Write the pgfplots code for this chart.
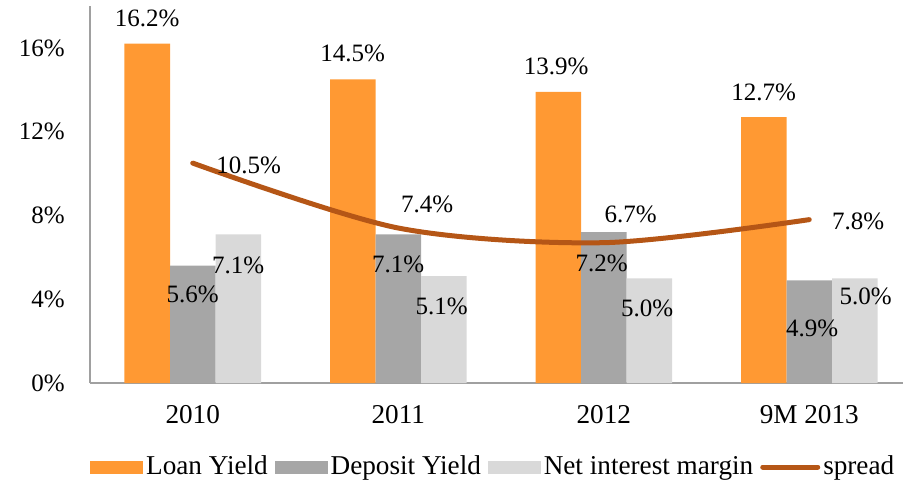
\documentclass[border=0pt]{standalone}
\usepackage{fontspec}
\setmainfont{Liberation Serif}
\usepackage{pgfplots}
\usepackage{pgfplotstable}
\pgfplotsset{compat=1.18}
\definecolor{loanc}{RGB}{255,153,51}
\definecolor{depc}{RGB}{166,166,166}
\definecolor{nimc}{RGB}{217,217,217}
\definecolor{spreadc}{RGB}{181,86,22}
\definecolor{axisc}{RGB}{160,160,160}

% dx, dy: label offsets in pt (baseline, centred)
\pgfplotstableread{
x y dx dy
0 16.2 0 8.5
1 14.5 0 9
2 13.9 -1 8.5
3 12.7 0 8.5
}\loantab
\pgfplotstableread{
x y dx dy
0 5.6 0 -18.5
1 7.1 0 -19
2 7.2 -1 -19.5
3 4.9 1.5 -28
}\deptab
\pgfplotstableread{
x y dx dy
0 7.1 0 -19.5
1 5.1 -1 -19
2 5.0 -1 -19
3 5.0 5.5 -13
}\nimtab
\pgfplotstableread{
x y dx dy
0 10.5 28 -5
1 7.4 14.5 8
2 6.7 13.5 10
3 7.8 24.5 -5
}\spreadtab

% 1 x unit = 102.75pt, 1 y unit = 188.5/18 pt
\pgfplotsset{
  lblplot/.style={
    draw=none, mark=none, forget plot,
    point meta=\thisrow{y},
    nodes near coords={\pgfmathprintnumber[fixed,fixed zerofill,precision=1,assume math mode=true]{\pgfplotspointmeta}\%},
    every node near coord/.append style={anchor=base, inner sep=0pt, font=\fontsize{12.5}{14}\selectfont, text=black},
  },
}

\begin{document}
\begin{tikzpicture}
\begin{axis}[
  scale only axis, width=411pt, height=188.5pt,
  xmin=-0.5, xmax=3.5, ymin=0, ymax=18,
  axis x line*=bottom, axis y line*=left,
  axis line style={draw=axisc, line width=0.75pt},
  x axis line style={-}, y axis line style={-},
  major tick length=0pt,
  xtick={0,1,2,3}, xticklabels={2010,2011,2012,9M 2013},
  ytick={0,4,8,12,16}, yticklabels={0\%,4\%,8\%,12\%,16\%},
  yticklabel style={anchor=east, inner sep=0pt, xshift=-12.5pt, font=\fontsize{12.5}{14}\selectfont},
  xticklabel style={anchor=base, inner sep=0pt, yshift=-20pt, font=\fontsize{13.6}{16}\selectfont},
  clip=false,
  legend columns=4,
  legend style={at={(axis description cs:0,-0.2228)}, anchor=west, draw=none, fill=none, inner sep=0pt,
    font=\fontsize{13.6}{16}\selectfont, nodes={inner sep=1.5pt},
    /tikz/every even column/.append style={column sep=2pt}},
  legend cell align=left,
]
\addplot[ybar, bar width=22.75pt, bar shift=-22.75pt, fill=loanc, draw=none, forget plot]
  table[x=x,y=y] {\loantab};
\addplot[ybar, bar width=22.75pt, bar shift=0pt, fill=depc, draw=none, forget plot]
  table[x=x,y=y] {\deptab};
\addplot[ybar, bar width=22.75pt, bar shift=22.75pt, fill=nimc, draw=none, forget plot]
  table[x=x,y=y] {\nimtab};
\addplot[spreadc, line width=2.5pt, smooth, line cap=round, mark=none, forget plot]
  table[x=x,y=y] {\spreadtab};
% data labels
\addplot[lblplot] table[x expr=\thisrow{x}-0.2214+\thisrow{dx}/102.75, y expr=\thisrow{y}+\thisrow{dy}/10.4722] {\loantab};
\addplot[lblplot] table[x expr=\thisrow{x}+\thisrow{dx}/102.75, y expr=\thisrow{y}+\thisrow{dy}/10.4722] {\deptab};
\addplot[lblplot] table[x expr=\thisrow{x}+0.2214+\thisrow{dx}/102.75, y expr=\thisrow{y}+\thisrow{dy}/10.4722] {\nimtab};
\addplot[lblplot] table[x expr=\thisrow{x}+\thisrow{dx}/102.75, y expr=\thisrow{y}+\thisrow{dy}/10.4722] {\spreadtab};
\addlegendimage{legend image code/.code={\fill[loanc] (0pt,-3pt) rectangle (26pt,3pt);}}
\addlegendentry{Loan Yield}
\addlegendimage{legend image code/.code={\fill[depc] (0pt,-3pt) rectangle (26pt,3pt);}}
\addlegendentry{Deposit Yield}
\addlegendimage{legend image code/.code={\fill[nimc] (0pt,-3pt) rectangle (26pt,3pt);}}
\addlegendentry{Net interest margin}
\addlegendimage{legend image code/.code={\draw[spreadc, line width=2.5pt, line cap=round] (0pt,0pt) -- (27.5pt,0pt);}}
\addlegendentry{spread}
\end{axis}
\pgfresetboundingbox
\path[use as bounding box] (-45pt,-50pt) rectangle (406.5pt,191.5pt);
\end{tikzpicture}
\end{document}
